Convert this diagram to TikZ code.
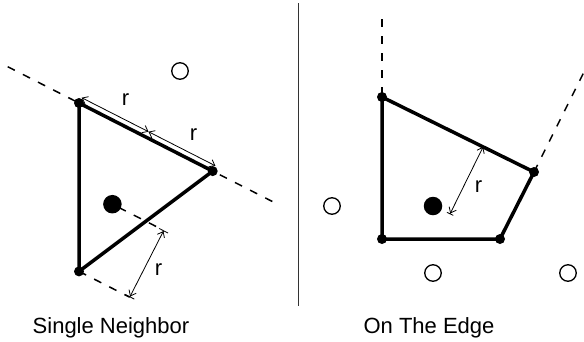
\documentclass[tikz,border=0pt]{standalone}
\usepackage{fontspec}
\setmainfont{Liberation Sans}
\usetikzlibrary{arrows.meta}
\tikzset{
  vtx/.style={circle,fill=black,inner sep=0pt,minimum size=10pt},
  bigdot/.style={circle,fill=black,inner sep=0pt,minimum size=18.5pt},
  opendot/.style={circle,draw=black,line width=1.3pt,inner sep=0pt,minimum size=16.5pt},
  polyedge/.style={line width=3.5pt,line join=round},
  dashline/.style={line width=1.5pt,dash pattern=on 8pt off 9pt},
  dimarrow/.style={line width=0.8pt,{Straight Barb[length=5pt,width=8pt]}-{Straight Barb[length=5pt,width=8pt]}},
  dimbarboth/.style={line width=0.8pt,{Bar[width=10pt]Straight Barb[length=5pt,width=8pt]}-{Straight Barb[length=5pt,width=8pt]Bar[width=10pt]}},
  dimbarstart/.style={line width=0.8pt,{Bar[width=7pt]Straight Barb[length=5pt,width=8pt]}-{Straight Barb[length=5pt,width=8pt]}},
  lab/.style={font=\fontsize{22}{26}\selectfont,inner sep=0pt,anchor=base},
}
\begin{document}
\begin{tikzpicture}[x=1pt,y=-1pt]
\useasboundingbox (0,0) rectangle (584,341);
% separator
\coordinate (st) at (298,3);
\coordinate (sb) at (298,306);
\draw[line width=1pt,black!80] (st) -- (sb);

% ---------- left panel ----------
\coordinate (L1s) at (7.7,66.7);
\coordinate (L1e) at (280,205.4);
\draw[dashline] (L1s) -- (L1e);
\node[vtx] (A) at (79,103) {};
\node[vtx] (B) at (212.7,171.1) {};
\node[vtx] (C) at (79,271.4) {};
\node[bigdot] (D) at (112.4,204.2) {};
\node[opendot] (O1) at (180,71) {};
\coordinate (P) at (163.8,230.4);
\coordinate (Q) at (129.7,297.2);
\draw[dashline,dash phase=10pt] (D.center) -- (P);
\draw[dashline] (C.center) -- (Q);
\draw[polyedge] (A.center) -- (B.center) -- (C.center) -- cycle;
\coordinate (Aa) at (81.7,97.7);
\coordinate (Mm) at (148.5,131.7);
\coordinate (Bb) at (215.4,165.8);
\draw[dimarrow] (Aa) -- (Mm);
\draw[dimarrow] (Mm) -- (Bb);
\draw[dimbarboth] (P) -- (Q);
\node[lab] (r1) at (125.5,105) {r};
\node[lab] (r2) at (193.5,140) {r};
\node[lab] (r3) at (158.5,275) {r};
\node[lab] (t1) at (111,333.5) {Single Neighbor};

% ---------- right panel ----------
\coordinate (V1) at (382,19);
\coordinate (V2) at (583.5,73);
\node[vtx] (P1) at (382,97) {};
\node[vtx] (P2) at (534,172) {};
\node[vtx] (P3) at (500,239) {};
\node[vtx] (P4) at (382,239) {};
\node[bigdot] (D2) at (433,206) {};
\node[opendot] (O2) at (332,206) {};
\node[opendot] (O3) at (433,273) {};
\node[opendot] (O4) at (568,273) {};
\draw[dashline] (V1) -- (P1.center);
\draw[dashline] (P2.center) -- (V2);
\draw[polyedge] (P1.center) -- (P2.center) -- (P3.center) -- (P4.center) -- cycle;
\coordinate (E) at (483.1,146.9);
\coordinate (Q2) at (449.9,214.2);
\draw[dimbarstart] (Q2) -- (E);
\node[lab] (r4) at (478.5,192) {r};
\node[lab] (t2) at (429,333.5) {On The Edge};
\end{tikzpicture}
\end{document}
